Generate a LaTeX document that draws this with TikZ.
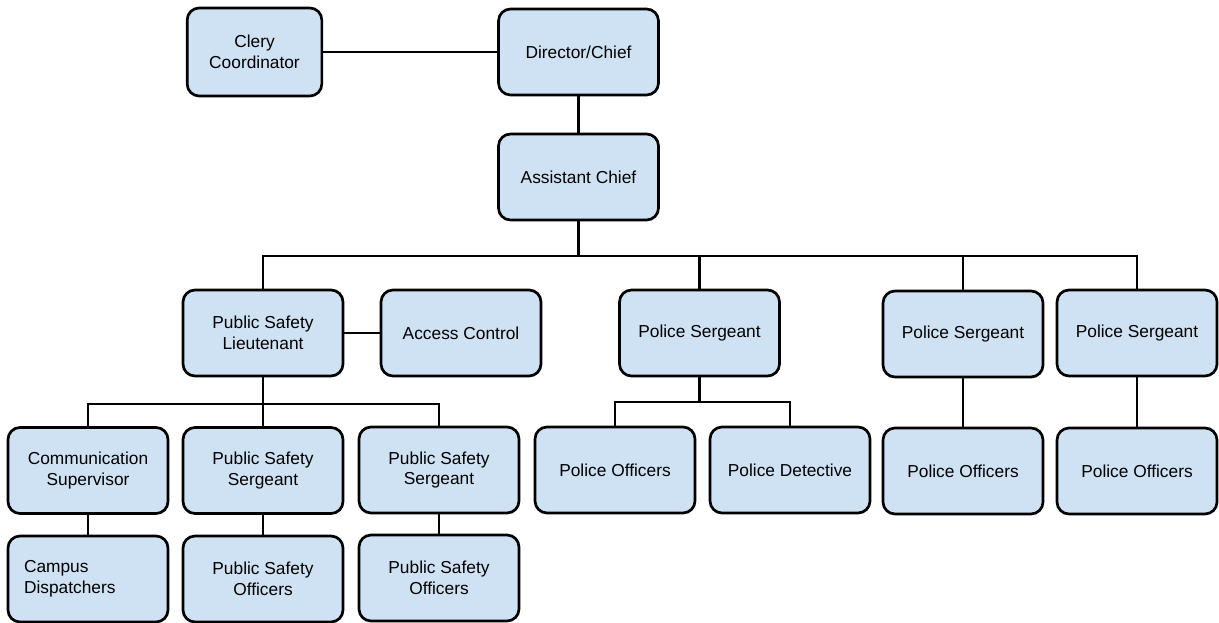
\documentclass[tikz,border=0pt]{standalone}
\usepackage{fontspec}
\setmainfont{Liberation Sans}
\definecolor{boxblue}{HTML}{CFE2F3}
\tikzset{
  rolle/.style={draw,line width=2pt,rounded corners=9pt,fill=boxblue,
    minimum width=120pt,minimum height=64.5pt,align=center,inner sep=2pt,
    font=\fontsize{13}{15.6}\selectfont},
  linie/.style={line width=1.6pt}
}
\begin{document}
\begin{tikzpicture}[x=0.75pt,y=-0.75pt]
\useasboundingbox (0,0) rectangle (1219,623);

% Leitung
\node[rolle,minimum width=101pt,minimum height=66pt] (clery) at (254.5,52) {Clery\\Coordinator};
\node[rolle] (chief) at (578.5,52) {Director/Chief};
\node[rolle] (asst) at (578.5,177) {Assistant Chief};
\draw[linie] (clery) -- (chief);
\draw[linie] (chief) -- (asst);

% zweite Ebene
\node[rolle] (lt) at (263,333) {Public Safety\\Lieutenant};
\node[rolle] (access) at (461,333) {Access Control};
\node[rolle] (sgtA) at (699.5,333) {Police Sergeant};
\node[rolle] (sgtB) at (963,334) {Police Sergeant};
\node[rolle] (sgtC) at (1137,333) {Police Sergeant};
\coordinate (busA) at (578.5,256);
\draw[linie] (asst) -- (busA);
\foreach \n in {lt,sgtA,sgtB,sgtC}
  \draw[linie] (busA) -| (\n);
\draw[linie] (lt) -- (access);

% Public Safety
\node[rolle] (comm) at (88,470.5) {Communication\\Supervisor};
\node[rolle] (pssA) at (263,470.5) {Public Safety\\Sergeant};
\node[rolle] (pssB) at (439,470) {Public Safety\\Sergeant};
\node[rolle,align=left,text width=96pt,inner xsep=12pt] (disp) at (88,579) {Campus\\Dispatchers};
\node[rolle] (psoA) at (263,579) {Public Safety\\Officers};
\node[rolle] (psoB) at (439,578) {Public Safety\\Officers};
\coordinate (busB) at (263,404);
\draw[linie] (lt) -- (busB);
\foreach \n in {comm,pssA,pssB}
  \draw[linie] (busB) -| (\n);
\draw[linie] (comm) -- (disp);
\draw[linie] (pssA) -- (psoA);
\draw[linie] (pssB) -- (psoB);

% Polizei
\node[rolle] (offA) at (615,470) {Police Officers};
\node[rolle] (det) at (790,470) {Police Detective};
\node[rolle] (offB) at (963,471) {Police Officers};
\node[rolle] (offC) at (1137,471) {Police Officers};
\coordinate (busC) at (699.5,402);
\draw[linie] (sgtA) -- (busC);
\foreach \n in {offA,det}
  \draw[linie] (busC) -| (\n);
\draw[linie] (sgtB) -- (offB);
\draw[linie] (sgtC) -- (offC);
\end{tikzpicture}
\end{document}
